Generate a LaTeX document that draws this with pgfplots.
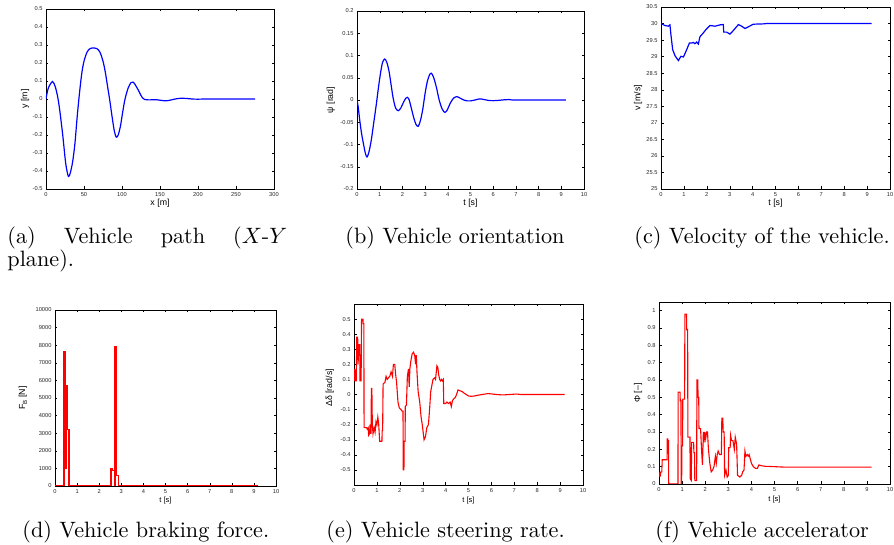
\documentclass[border=0pt]{standalone}
\usepackage{fontspec}
\usepackage{pgfplots}
\pgfplotsset{compat=1.18}
\newfontfamily\hel{Liberation Sans}
\definecolor{mblue}{RGB}{0,0,255}
\definecolor{mred}{RGB}{255,0,0}
\pgfplotsset{
 mat/.style={
  scale only axis, axis line style={line width=0.7pt}, tick align=inside, major tick length=2.5pt,
  every tick/.style={black, line width=0.4pt},
  ticklabel style={font=\hel\fontsize{5.7}{6}\selectfont, text=black!85},
  label style={font=\hel\fontsize{8.8}{9}\selectfont},
  /pgf/number format/assume math mode=true,
  /pgf/number format/1000 sep={},
  scaled ticks=false,
  yticklabel style={/pgf/number format/fixed, /pgf/number format/precision=2},
  xticklabel style={/pgf/number format/fixed},
  xlabel style={anchor=center}, ylabel style={anchor=center},
  anchor=south west,
 },
 blu/.style={mblue, line width=1.2pt, no marks},
 rd/.style={mred, line width=1.1pt, no marks},
}
\begin{document}
\begin{tikzpicture}[x=1pt,y=1pt]
\useasboundingbox (0,0) rectangle (894,545);
% (a)
\begin{axis}[mat, at={(46pt,356pt)}, width=228pt, height=180pt,
  xmin=0, xmax=300, ymin=-0.5, ymax=0.5, xtick={0,50,...,300},
  ytick={-0.5,-0.4,-0.3,-0.2,-0.1,0,0.1,0.2,0.3,0.4,0.5},
  xlabel={x [m]}, ylabel={y [m]},
  xlabel style={at={(axis description cs:0.5,-0.078)}},
  ylabel style={at={(axis description cs:-0.092,0.5)}}]
\addplot[blu, smooth, tension=0.5] coordinates {(0,0) (3,0.06) (8.5,0.097) (12,0.07) (15,0.02) (18,-0.06) (22,-0.2) (26,-0.36) (29.5,-0.43) (32,-0.41) (35,-0.35) (38,-0.25) (41,-0.1) (44,0.03) (47,0.14) (50,0.21) (54,0.26) (58,0.28) (63,0.284) (67,0.28) (71,0.26) (75,0.21) (78,0.15) (81,0.07) (84,-0.01) (87,-0.1) (90,-0.18) (92.5,-0.212) (95,-0.2) (98,-0.15) (101,-0.07) (104,0.0) (108,0.06) (112,0.092) (115,0.093) (118,0.075) (122,0.045) (126,0.012) (130,-0.003) (135,-0.005) (145,-0.004) (152,-0.008) (158,-0.01) (164,-0.006) (170,0.0) (177,0.004) (185,0.003) (192,0.0) (200,-0.001) (215,0) (275,0)};
\end{axis}
% (b)
\begin{axis}[mat, at={(357pt,356pt)}, width=227pt, height=178pt,
  xmin=0, xmax=10, ymin=-0.2, ymax=0.2, xtick={0,1,...,10},
  ytick={-0.2,-0.15,-0.1,-0.05,0,0.05,0.1,0.15,0.2},
  xlabel={t [s]}, ylabel={ψ [rad]},
  xlabel style={at={(axis description cs:0.5,-0.079)}},
  ylabel style={at={(axis description cs:-0.115,0.5)}}]
\addplot[blu, smooth, tension=0.5] coordinates {(0,0) (0.05,-0.015) (0.12,-0.045) (0.2,-0.075) (0.29,-0.1) (0.37,-0.12) (0.44,-0.128) (0.52,-0.118) (0.63,-0.09) (0.74,-0.05) (0.85,-0.01) (0.95,0.03) (1.05,0.065) (1.13,0.085) (1.22,0.092) (1.31,0.085) (1.41,0.065) (1.5,0.035) (1.59,0.005) (1.7,-0.018) (1.82,-0.024) (1.93,-0.018) (2.05,-0.005) (2.15,0.004) (2.22,0.006) (2.3,0.0) (2.4,-0.02) (2.5,-0.04) (2.6,-0.055) (2.7,-0.059) (2.8,-0.045) (2.9,-0.02) (3.0,0.015) (3.1,0.042) (3.2,0.057) (3.28,0.06) (3.38,0.05) (3.5,0.028) (3.62,0.0) (3.75,-0.02) (3.87,-0.028) (3.98,-0.022) (4.1,-0.008) (4.25,0.004) (4.4,0.0075) (4.55,0.004) (4.7,0.0) (4.85,-0.002) (5.0,-0.002) (5.2,0.0) (5.4,0.0025) (5.6,0.001) (5.8,-0.001) (6.0,-0.0015) (6.2,-0.001) (6.5,0.0005) (6.7,0.001) (7.0,0.0) (9.2,0)};
\end{axis}
% (c)
\begin{axis}[mat, at={(661pt,356pt)}, width=229pt, height=182pt,
  xmin=0, xmax=10, ymin=25, ymax=30.5, xtick={0,1,...,10},
  ytick={25,25.5,...,30.5},
  xlabel={t [s]}, ylabel={v [m/s]},
  xlabel style={at={(axis description cs:0.5,-0.077)}},
  ylabel style={at={(axis description cs:-0.1,0.5)}}]
\addplot[blu] coordinates {(0,30) (0.17,29.94) (0.32,29.92) (0.39,29.96) (0.44,29.62) (0.51,29.21) (0.61,29.03) (0.76,28.88) (0.8,28.93) (0.87,29.01) (0.98,28.99) (1.09,29.16) (1.24,29.41) (1.34,29.41) (1.41,29.43) (1.48,29.39) (1.56,29.44) (1.63,29.38) (1.70,29.6) (1.85,29.72) (1.99,29.84) (2.14,29.94) (2.36,29.92) (2.58,29.96) (2.72,29.97) (2.74,29.74) (2.87,29.74) (3.01,29.68) (3.16,29.79) (3.38,29.97) (3.52,29.92) (3.67,29.85) (3.81,29.9) (4.03,29.98) (4.47,29.99) (4.61,30) (9.2,30)};
\end{axis}
% (d)
\begin{axis}[mat, at={(55pt,59pt)}, width=221pt, height=176pt,
  xmin=0, xmax=10, ymin=0, ymax=10000, xtick={0,1,...,10},
  ytick={0,1000,...,10000},
  xlabel={t [s]}, ylabel={F\raisebox{-0.4ex}{\fontsize{6}{6}\selectfont B} [N]},
  xlabel style={at={(axis description cs:0.5,-0.085)}, font=\hel\fontsize{7.5}{8}\selectfont},
  ylabel style={at={(axis description cs:-0.145,0.5)}}]
\addplot[rd, line width=1.4pt] coordinates {(0,0) (0.38,0) (0.38,7650) (0.40,7650) (0.40,0) (0.41,0) (0.41,7650) (0.43,7650) (0.43,0) (0.44,0) (0.44,7650) (0.47,7650) (0.47,1000) (0.49,1000) (0.49,5700) (0.51,5700) (0.51,1000) (0.52,1000) (0.52,5700) (0.56,5700) (0.56,3200) (0.64,3200) (0.64,0) (2.53,0) (2.53,1000) (2.61,1000) (2.61,870) (2.68,870) (2.68,7900) (2.70,7900) (2.70,0) (2.71,0) (2.71,7900) (2.73,7900) (2.73,0) (2.74,0) (2.74,7900) (2.79,7900) (2.79,600) (2.87,600) (2.87,0) (9.2,0)};
\end{axis}
% (e)
\begin{axis}[mat, at={(354pt,60pt)}, width=229pt, height=181pt,
  xmin=0, xmax=10, ymin=-0.6, ymax=0.6, xtick={0,1,...,10},
  ytick={-0.5,-0.4,-0.3,-0.2,-0.1,0,0.1,0.2,0.3,0.4,0.5},
  xlabel={t [s]}, ylabel={Δδ [rad/s]},
  xlabel style={at={(axis description cs:0.5,-0.085)}, font=\hel\fontsize{7.5}{8}\selectfont},
  ylabel style={at={(axis description cs:-0.105,0.536)}}]
\addplot[rd] coordinates {(0,0.17) (0.02,0.09) (0.04,0.17) (0.06,0.09) (0.1,0.09) (0.12,0.38) (0.16,0.38) (0.18,0.2) (0.2,0.33) (0.25,0.33) (0.26,0.09) (0.31,0.09) (0.33,0.5) (0.39,0.5) (0.40,0.47) (0.43,0.47) (0.44,-0.22) (0.55,-0.22) (0.58,-0.23) (0.62,-0.22) (0.64,-0.27) (0.68,-0.26) (0.70,-0.2) (0.74,-0.26) (0.76,0.04) (0.78,0.04) (0.80,-0.2) (0.83,-0.26) (0.88,-0.22) (0.92,-0.25) (0.96,-0.18) (1.0,-0.2) (1.04,-0.15) (1.08,-0.2) (1.12,-0.31) (1.22,-0.31) (1.23,-0.24) (1.25,-0.24) (1.27,0.07) (1.35,0.08) (1.4,0.12) (1.45,0.1) (1.5,0.11) (1.56,0.12) (1.62,0.15) (1.68,0.12) (1.72,0.2) (1.78,0.2) (1.82,0.13) (1.86,0.08) (1.92,-0.05) (1.98,-0.09) (2.05,-0.1) (2.1,-0.11) (2.14,-0.11) (2.15,-0.5) (2.18,-0.5) (2.19,-0.31) (2.23,-0.31) (2.24,-0.08) (2.29,-0.07) (2.33,0.12) (2.38,0.17) (2.41,0.05) (2.44,0.17) (2.48,0.22) (2.54,0.27) (2.6,0.28) (2.65,0.26) (2.69,0.2) (2.72,0.26) (2.75,0.15) (2.8,0.02) (2.87,-0.05) (2.93,-0.15) (2.98,-0.2) (3.06,-0.3) (3.12,-0.28) (3.18,-0.22) (3.25,-0.2) (3.3,-0.1) (3.35,0.02) (3.4,0.06) (3.45,0.1) (3.52,0.11) (3.56,0.1) (3.62,0.19) (3.66,0.18) (3.7,0.13) (3.74,0.1) (3.78,0.09) (3.82,0.1) (3.86,0.09) (3.9,0.1) (3.92,-0.06) (4.0,-0.06) (4.06,-0.05) (4.12,-0.06) (4.2,-0.05) (4.25,-0.08) (4.3,-0.04) (4.35,-0.03) (4.42,-0.02) (4.48,0.0) (4.54,0.03) (4.62,0.025) (4.72,0.02) (4.8,0.01) (4.9,0.0) (5.0,-0.01) (5.12,-0.012) (5.25,-0.01) (5.4,-0.005) (5.6,0.0) (5.85,0.006) (6.0,0.004) (6.2,0.0) (6.5,-0.003) (6.8,0.0) (7.1,0.003) (7.3,0.0) (9.2,0)};
\end{axis}
% (f)
\begin{axis}[mat, at={(659pt,61pt)}, width=231pt, height=182pt,
  xmin=0, xmax=10, ymin=0, ymax=1.05, xtick={0,1,...,10},
  ytick={0,0.1,0.2,0.3,0.4,0.5,0.6,0.7,0.8,0.9,1},
  xlabel={t [s]}, ylabel={Φ [–]},
  xlabel style={at={(axis description cs:0.5,-0.088)}, font=\hel\fontsize{7.5}{8}\selectfont},
  ylabel style={at={(axis description cs:-0.091,0.5)}}]
\addplot[rd] coordinates {(0,0.04) (0.02,0.06) (0.06,0.05) (0.08,0.07) (0.12,0.07) (0.14,0.14) (0.24,0.14) (0.25,0.14) (0.35,0.14) (0.35,0.26) (0.38,0.26) (0.39,0.25) (0.41,0.25) (0.42,0) (0.82,0) (0.83,0.53) (0.91,0.53) (0.92,0.48) (0.95,0.48) (0.96,0) (0.98,0) (0.99,0.22) (1.02,0.22) (1.03,0.49) (1.11,0.49) (1.12,0.98) (1.19,0.98) (1.2,0.89) (1.24,0.89) (1.25,0.27) (1.34,0.27) (1.35,0.03) (1.4,0.02) (1.41,0.24) (1.5,0.24) (1.51,0.18) (1.54,0.18) (1.55,0.02) (1.63,0.02) (1.64,0.6) (1.68,0.6) (1.69,0.5) (1.72,0.5) (1.73,0.32) (1.8,0.32) (1.84,0.2) (1.88,0.11) (1.9,0.2) (1.92,0.3) (1.95,0.24) (1.98,0.3) (2.02,0.26) (2.06,0.3) (2.1,0.3) (2.14,0.2) (2.2,0.12) (2.26,0.07) (2.32,0.08) (2.38,0.1) (2.44,0.16) (2.48,0.12) (2.52,0.17) (2.56,0.19) (2.62,0.17) (2.7,0.17) (2.72,0.38) (2.76,0.38) (2.78,0.3) (2.82,0.3) (2.84,0.05) (2.9,0.08) (2.95,0.04) (3.0,0.05) (3.02,0.21) (3.08,0.21) (3.1,0.28) (3.14,0.25) (3.2,0.25) (3.26,0.2) (3.3,0.27) (3.36,0.23) (3.4,0.05) (3.5,0.04) (3.58,0.05) (3.62,0.07) (3.68,0.08) (3.72,0.19) (3.76,0.16) (3.82,0.17) (3.86,0.16) (3.9,0.17) (3.94,0.15) (4.0,0.12) (4.08,0.1) (4.18,0.09) (4.26,0.09) (4.32,0.11) (4.45,0.105) (4.6,0.102) (5.0,0.1) (5.3,0.098) (5.6,0.097) (9.2,0.097)};
\end{axis}
% captions
\begin{scope}[every node/.style={inner sep=0pt, font=\fontsize{10}{12}\selectfont, anchor=base west, scale=2.22}]
\node at (7,301) {\makebox[126pt][s]{(a) Vehicle path ($X$-$Y$}};
\node at (7,278) {plane).};
\node at (345,301) {(b) Vehicle orientation};
\node at (634,301) {(c) Velocity of the vehicle.};
\node at (22,7) {(d) Vehicle braking force.};
\node at (326,7) {(e) Vehicle steering rate.};
\node at (655,7) {(f) Vehicle accelerator};
\end{scope}
\end{tikzpicture}
\end{document}
